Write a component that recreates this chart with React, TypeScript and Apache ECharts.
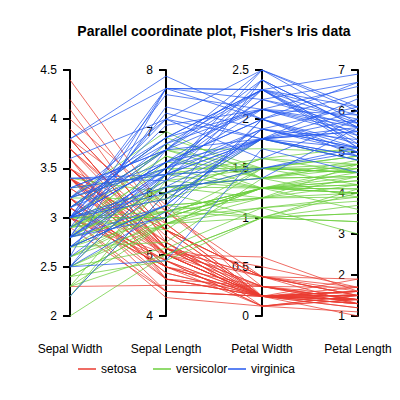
import { useEffect, useRef } from "react";
import * as echarts from "echarts";

// columns: sepal length, sepal width, petal length, petal width
const setosa = [
  [5.1, 3.5, 1.4, 0.2], [4.9, 3.0, 1.4, 0.2], [4.7, 3.2, 1.3, 0.2], [4.6, 3.1, 1.5, 0.2], [5.0, 3.6, 1.4, 0.2],
  [5.4, 3.9, 1.7, 0.4], [4.6, 3.4, 1.4, 0.3], [5.0, 3.4, 1.5, 0.2], [4.4, 2.9, 1.4, 0.2], [4.9, 3.1, 1.5, 0.1],
  [5.4, 3.7, 1.5, 0.2], [4.8, 3.4, 1.6, 0.2], [4.8, 3.0, 1.4, 0.1], [4.3, 3.0, 1.1, 0.1], [5.8, 4.0, 1.2, 0.2],
  [5.7, 4.4, 1.5, 0.4], [5.4, 3.9, 1.3, 0.4], [5.1, 3.5, 1.4, 0.3], [5.7, 3.8, 1.7, 0.3], [5.1, 3.8, 1.5, 0.3],
  [5.4, 3.4, 1.7, 0.2], [5.1, 3.7, 1.5, 0.4], [4.6, 3.6, 1.0, 0.2], [5.1, 3.3, 1.7, 0.5], [4.8, 3.4, 1.9, 0.2],
  [5.0, 3.0, 1.6, 0.2], [5.0, 3.4, 1.6, 0.4], [5.2, 3.5, 1.5, 0.2], [5.2, 3.4, 1.4, 0.2], [4.7, 3.2, 1.6, 0.2],
  [4.8, 3.1, 1.6, 0.2], [5.4, 3.4, 1.5, 0.4], [5.2, 4.1, 1.5, 0.1], [5.5, 4.2, 1.4, 0.2], [4.9, 3.1, 1.5, 0.2],
  [5.0, 3.2, 1.2, 0.2], [5.5, 3.5, 1.3, 0.2], [4.9, 3.6, 1.4, 0.1], [4.4, 3.0, 1.3, 0.2], [5.1, 3.4, 1.5, 0.2],
  [5.0, 3.5, 1.3, 0.3], [4.5, 2.3, 1.3, 0.3], [4.4, 3.2, 1.3, 0.2], [5.0, 3.5, 1.6, 0.6], [5.1, 3.8, 1.9, 0.4],
  [4.8, 3.0, 1.4, 0.3], [5.1, 3.8, 1.6, 0.2], [4.6, 3.2, 1.4, 0.2], [5.3, 3.7, 1.5, 0.2], [5.0, 3.3, 1.4, 0.2],
];

const versicolor = [
  [7.0, 3.2, 4.7, 1.4], [6.4, 3.2, 4.5, 1.5], [6.9, 3.1, 4.9, 1.5], [5.5, 2.3, 4.0, 1.3], [6.5, 2.8, 4.6, 1.5],
  [5.7, 2.8, 4.5, 1.3], [6.3, 3.3, 4.7, 1.6], [4.9, 2.4, 3.3, 1.0], [6.6, 2.9, 4.6, 1.3], [5.2, 2.7, 3.9, 1.4],
  [5.0, 2.0, 3.5, 1.0], [5.9, 3.0, 4.2, 1.5], [6.0, 2.2, 4.0, 1.0], [6.1, 2.9, 4.7, 1.4], [5.6, 2.9, 3.6, 1.3],
  [6.7, 3.1, 4.4, 1.4], [5.6, 3.0, 4.5, 1.5], [5.8, 2.7, 4.1, 1.0], [6.2, 2.2, 4.5, 1.5], [5.6, 2.5, 3.9, 1.1],
  [5.9, 3.2, 4.8, 1.8], [6.1, 2.8, 4.0, 1.3], [6.3, 2.5, 4.9, 1.5], [6.1, 2.8, 4.7, 1.2], [6.4, 2.9, 4.3, 1.3],
  [6.6, 3.0, 4.4, 1.4], [6.8, 2.8, 4.8, 1.4], [6.7, 3.0, 5.0, 1.7], [6.0, 2.9, 4.5, 1.5], [5.7, 2.6, 3.5, 1.0],
  [5.5, 2.4, 3.8, 1.1], [5.5, 2.4, 3.7, 1.0], [5.8, 2.7, 3.9, 1.2], [6.0, 2.7, 5.1, 1.6], [5.4, 3.0, 4.5, 1.5],
  [6.0, 3.4, 4.5, 1.6], [6.7, 3.1, 4.7, 1.5], [6.3, 2.3, 4.4, 1.3], [5.6, 3.0, 4.1, 1.3], [5.5, 2.5, 4.0, 1.3],
  [5.5, 2.6, 4.4, 1.2], [6.1, 3.0, 4.6, 1.4], [5.8, 2.6, 4.0, 1.2], [5.0, 2.3, 3.3, 1.0], [5.6, 2.7, 4.2, 1.3],
  [5.7, 3.0, 4.2, 1.2], [5.7, 2.9, 4.2, 1.3], [6.2, 2.9, 4.3, 1.3], [5.1, 2.5, 3.0, 1.1], [5.7, 2.8, 4.1, 1.3],
];

const virginica = [
  [6.3, 3.3, 6.0, 2.5], [5.8, 2.7, 5.1, 1.9], [7.1, 3.0, 5.9, 2.1], [6.3, 2.9, 5.6, 1.8], [6.5, 3.0, 5.8, 2.2],
  [7.6, 3.0, 6.6, 2.1], [4.9, 2.5, 4.5, 1.7], [7.3, 2.9, 6.3, 1.8], [6.7, 2.5, 5.8, 1.8], [7.2, 3.6, 6.1, 2.5],
  [6.5, 3.2, 5.1, 2.0], [6.4, 2.7, 5.3, 1.9], [6.8, 3.0, 5.5, 2.1], [5.7, 2.5, 5.0, 2.0], [5.8, 2.8, 5.1, 2.4],
  [6.4, 3.2, 5.3, 2.3], [6.5, 3.0, 5.5, 1.8], [7.7, 3.8, 6.7, 2.2], [7.7, 2.6, 6.9, 2.3], [6.0, 2.2, 5.0, 1.5],
  [6.9, 3.2, 5.7, 2.3], [5.6, 2.8, 4.9, 2.0], [7.7, 2.8, 6.7, 2.0], [6.3, 2.7, 4.9, 1.8], [6.7, 3.3, 5.7, 2.1],
  [7.2, 3.2, 6.0, 1.8], [6.2, 2.8, 4.8, 1.8], [6.1, 3.0, 4.9, 1.8], [6.4, 2.8, 5.6, 2.1], [7.2, 3.0, 5.8, 1.6],
  [7.4, 2.8, 6.1, 1.9], [7.9, 3.8, 6.4, 2.0], [6.4, 2.8, 5.6, 2.2], [6.3, 2.8, 5.1, 1.5], [6.1, 2.6, 5.6, 1.4],
  [7.7, 3.0, 6.1, 2.3], [6.3, 3.4, 5.6, 2.4], [6.4, 3.1, 5.5, 1.8], [6.0, 3.0, 4.8, 1.8], [6.9, 3.1, 5.4, 2.1],
  [6.7, 3.1, 5.6, 2.4], [6.9, 3.1, 5.1, 2.3], [5.8, 2.7, 5.1, 1.9], [6.8, 3.2, 5.9, 2.3], [6.7, 3.3, 5.7, 2.5],
  [6.7, 3.0, 5.2, 2.3], [6.3, 2.5, 5.0, 1.9], [6.5, 3.0, 5.2, 2.0], [6.2, 3.4, 5.4, 2.3], [5.9, 3.0, 5.1, 1.8],
];

const species = ["setosa", "versicolor", "virginica"];
const speciesRows = [setosa, versicolor, virginica];
const speciesColors = ["#ea3b30", "#6ccf3e", "#2458ef"];

// axis order in the plot, as column index into the rows above
const axisNames = ["Sepal Width", "Sepal Length", "Petal Width", "Petal Length"];
const axisColumns = [1, 0, 3, 2];
const axisMin = [2, 4, 0, 1];
const axisMax = [4.5, 8, 2.5, 7];
const axisStep = [0.5, 1, 0.5, 1];

const legendLeft = [73, 148, 223];

const FONT = "'Liberation Sans', Arial, Helvetica, sans-serif";

// plot box shared by the parallel coords and the tick-only grid
const BOX = { left: 70, right: 42, top: 70, bottom: 84 };
const AXIS_SPACING = (400 - BOX.left - BOX.right) / (axisNames.length - 1);

export default function App() {
  const chartRef = useRef<HTMLDivElement>(null);

  useEffect(() => {
    if (!chartRef.current) return;
    const chart = echarts.init(chartRef.current, null, { renderer: "svg" });

    chart.setOption({
      animation: false,
      backgroundColor: "#fff",
      textStyle: { fontFamily: FONT },
      graphic: [
        {
          type: "text",
          x: 214,
          y: 24,
          style: {
            text: "Parallel coordinate plot, Fisher's Iris data",
            fill: "#000",
            font: "bold 14px " + FONT,
            textAlign: "center",
            textVerticalAlign: "top",
          },
        },
      ],
      legend: species.map((name, i) => ({
        data: [name],
        left: legendLeft[i],
        top: 358,
        icon: "rect",
        itemWidth: 18,
        itemHeight: 1.5,
        selectedMode: false,
        itemStyle: { borderWidth: 0 },
        textStyle: { fontFamily: FONT, fontSize: 12, color: "#000" },
      })),
      // grid only carries the left-side ticks and labels of each axis
      grid: { ...BOX },
      xAxis: { type: "value", show: false, min: 0, max: 1 },
      yAxis: axisNames.map((_, i) => ({
        type: "value",
        position: "left",
        offset: -i * AXIS_SPACING,
        min: axisMin[i],
        max: axisMax[i],
        interval: axisStep[i],
        axisLine: { show: true, lineStyle: { color: "#000", width: 2 } },
        axisTick: { show: true, length: 7, lineStyle: { color: "#000", width: 2 } },
        axisLabel: { fontFamily: FONT, fontSize: 12, color: "#000", margin: 13 },
        splitLine: { show: false },
      })),
      parallel: {
        ...BOX,
        layout: "horizontal",
      },
      parallelAxis: axisNames.map((name, i) => ({
        dim: i,
        name,
        min: axisMin[i],
        max: axisMax[i],
        interval: axisStep[i],
        nameLocation: "start",
        nameGap: 27,
        nameTextStyle: { fontFamily: FONT, fontSize: 12, color: "#000" },
        axisLine: { show: false },
        axisTick: { show: false },
        axisLabel: { show: false, color: "rgba(0,0,0,0)", formatter: () => "" },
        splitLine: { show: false },
        areaSelectStyle: { width: 0 },
      })),
      series: species.map((name, i) => ({
        name,
        type: "parallel",
        silent: true,
        lineStyle: { color: speciesColors[i], width: 1, opacity: 0.75 },
        itemStyle: { color: speciesColors[i] },
        data: speciesRows[i].map((row) => axisColumns.map((c) => row[c])),
      })),
    });

    return () => {
      chart.dispose();
    };
  }, []);

  return <div ref={chartRef} style={{ width: 400, height: 400, margin: -8 }} />;
}
